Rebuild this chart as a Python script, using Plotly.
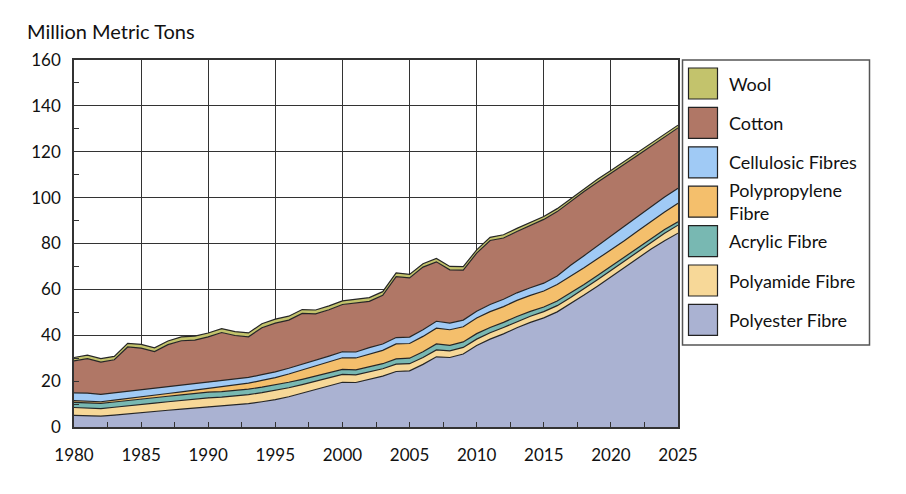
import plotly.graph_objects as go

years = list(range(1980, 2026))

polyester = [5.1, 5.0, 4.7, 5.2, 5.8, 6.4, 6.8, 7.3, 7.8, 8.3,
             8.8, 9.1, 9.6, 10.2, 11.0, 11.9, 13.2, 14.7, 16.2, 17.8,
             19.5, 19.4, 20.8, 22.2, 24.2, 24.5, 27.3, 30.6, 30.3, 31.8,
             35.5, 38.3, 40.6, 43.3, 45.6, 47.6, 50.2, 53.8, 57.5, 61.4,
             65.4, 69.4, 73.4, 77.6, 81.2, 84.5]
polyamide = [3.4, 3.4, 3.3, 3.4, 3.5, 3.6, 3.6, 3.7, 3.8, 3.8,
             3.9, 3.9, 3.9, 3.9, 4.0, 4.0, 3.9, 3.8, 3.7, 3.5,
             3.4, 3.3, 3.3, 3.2, 3.2, 3.1, 3.0, 3.0, 2.9, 2.9,
             2.8, 2.8, 2.8, 2.7, 2.7, 2.7, 2.7, 2.7, 2.7, 2.8,
             2.8, 2.9, 3.0, 3.1, 3.3, 3.5]
acrylic = [2.2, 2.2, 2.3, 2.3, 2.3, 2.2, 2.3, 2.4, 2.4, 2.5,
           2.5, 2.4, 2.4, 2.4, 2.4, 2.4, 2.4, 2.3, 2.3, 2.3,
           2.2, 2.2, 2.3, 2.2, 2.3, 2.4, 2.5, 2.6, 2.4, 2.4,
           2.4, 2.3, 2.2, 2.2, 2.1, 2.0, 2.0, 1.9, 1.9, 1.8,
           1.8, 1.7, 1.7, 1.6, 1.6, 1.5]
polypropylene = [0.8, 0.8, 0.7, 0.8, 0.9, 1.0, 1.1, 1.2, 1.3, 1.4,
                 1.6, 2.2, 2.4, 2.6, 2.9, 3.2, 3.6, 4.0, 4.4, 4.8,
                 5.1, 5.2, 5.5, 5.8, 6.5, 6.4, 6.7, 6.9, 6.8, 6.6,
                 6.8, 6.9, 6.9, 7.0, 7.0, 7.0, 7.2, 7.3, 7.3, 7.3,
                 7.2, 7.2, 7.3, 7.4, 7.6, 8.0]
cellulosic = [3.4, 3.4, 3.2, 3.2, 3.1, 3.0, 2.9, 2.9, 2.9, 2.8,
              2.8, 2.7, 2.6, 2.5, 2.5, 2.5, 2.5, 2.5, 2.5, 2.5,
              2.6, 2.6, 2.7, 2.8, 2.8, 2.8, 2.9, 3.0, 2.9, 2.9,
              3.0, 3.1, 3.2, 3.3, 3.3, 3.4, 3.7, 4.8, 5.3, 5.8,
              6.1, 6.3, 6.4, 6.5, 6.6, 6.6]
cotton = [13.9, 15.0, 14.1, 14.4, 19.3, 18.2, 16.2, 18.4, 19.4, 19.1,
          19.7, 20.9, 19.0, 17.7, 20.5, 21.3, 21.0, 22.2, 20.2, 20.2,
          20.6, 21.5, 20.2, 21.2, 26.6, 25.8, 27.3, 25.9, 23.2, 21.8,
          25.3, 27.9, 26.7, 26.7, 27.1, 27.8, 28.1, 27.8, 28.0, 27.6,
          27.2, 27.1, 26.7, 26.3, 26.3, 26.3]
wool = [1.5, 1.5, 1.5, 1.5, 1.6, 1.6, 1.6, 1.6, 1.7, 1.7,
        1.7, 1.7, 1.7, 1.7, 1.7, 1.7, 1.7, 1.7, 1.7, 1.7,
        1.6, 1.6, 1.6, 1.6, 1.6, 1.5, 1.5, 1.5, 1.5, 1.5,
        1.4, 1.4, 1.4, 1.4, 1.4, 1.3, 1.3, 1.3, 1.3, 1.3,
        1.3, 1.2, 1.2, 1.2, 1.2, 1.2]

series_names = ["Polyester Fibre", "Polyamide Fibre", "Acrylic Fibre",
                "Polypropylene<br>Fibre", "Cellulosic Fibres", "Cotton", "Wool"]
series_values = [polyester, polyamide, acrylic, polypropylene, cellulosic, cotton, wool]
colors = ["#aab2d2", "#f7d898", "#78b8b2", "#f4bf6c", "#a0caf5", "#b07766", "#c3c36c"]

x_ticks = list(range(1980, 2030, 5))
y_ticks = list(range(0, 180, 20))

FONT = "Lato, 'Noto Sans', sans-serif"
TXT = "#111111"

fig = go.Figure()
for name, vals, col in zip(series_names, series_values, colors):
    fig.add_trace(go.Scatter(
        x=years, y=vals, name=name, stackgroup="one", mode="lines",
        line=dict(color="#262626", width=1.2), fillcolor=col,
        showlegend=False, hoverinfo="x+y+name"))

# plot area in pixels
L, R, T, B = 74, 678, 60, 427
W, H = R - L, B - T


def px(x):
    return (x - L) / W


def py(y):
    return (B - y) / H


shapes = []
annotations = []
# legend box
shapes.append(dict(type="rect", xref="paper", yref="paper",
                   x0=px(682.5), x1=px(869.5), y0=py(345), y1=py(60),
                   line=dict(color="#555555", width=1.5), fillcolor="white", layer="above"))
legend_order = list(range(len(series_names)))[::-1]
for i, idx in enumerate(legend_order):
    top = 68 + i * 39.4
    shapes.append(dict(type="rect", xref="paper", yref="paper",
                       x0=px(688.5), x1=px(717.5), y0=py(top + 31), y1=py(top),
                       line=dict(color="#222222", width=1.2), fillcolor=colors[idx],
                       layer="above"))
    annotations.append(dict(xref="paper", yref="paper", x=px(727), y=py(top + 15.5),
                            text=series_names[idx], showarrow=False, xanchor="left",
                            yanchor="middle", align="left",
                            font=dict(family=FONT, size=18, color=TXT)))

annotations.append(dict(xref="paper", yref="paper", x=px(25), y=py(31),
                        text="Million Metric Tons", showarrow=False, xanchor="left",
                        yanchor="middle", font=dict(family=FONT, size=20, color=TXT)))

fig.update_layout(
    width=906, height=494,
    margin=dict(l=L, r=906 - R, t=T, b=494 - B),
    paper_bgcolor="white", plot_bgcolor="white",
    font=dict(family=FONT, size=17, color=TXT),
    shapes=shapes, annotations=annotations,
    hovermode="x unified",
)
fig.update_xaxes(
    range=[1980, 2025], tickvals=x_ticks, ticktext=[str(v) for v in x_ticks],
    showgrid=True, gridcolor="#333333", gridwidth=1.3,
    showline=True, linecolor="#333333", linewidth=1.5, mirror=True,
    ticks="inside", ticklen=5, tickcolor="#333333",
    minor=dict(dtick=2.5, ticks="inside", ticklen=5, tickcolor="#333333", showgrid=False),
    tickfont=dict(family=FONT, size=17, color=TXT), zeroline=False,
    ticklabelstandoff=12,
)
fig.update_yaxes(
    range=[0, 160], tickvals=y_ticks, ticktext=[str(v) for v in y_ticks],
    showgrid=True, gridcolor="#333333", gridwidth=1.3,
    showline=True, linecolor="#333333", linewidth=1.5, mirror=True,
    ticks="inside", ticklen=5, tickcolor="#333333",
    minor=dict(dtick=10, ticks="inside", ticklen=5, tickcolor="#333333", showgrid=False),
    tickfont=dict(family=FONT, size=17, color=TXT), zeroline=False,
    ticklabelstandoff=8,
)

fig.write_html("out.html")
